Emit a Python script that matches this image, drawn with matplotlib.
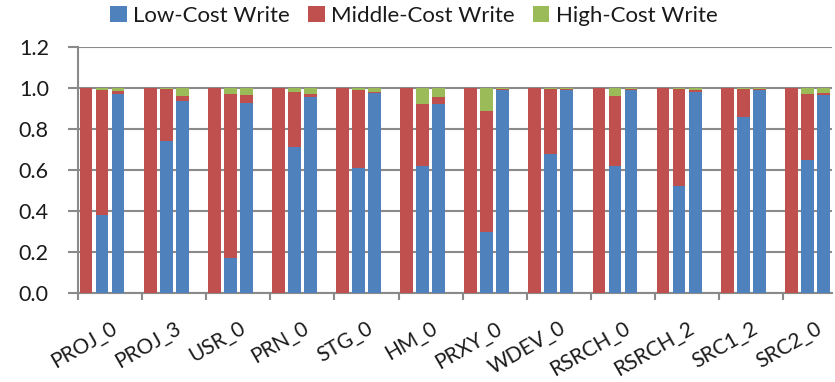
import matplotlib
matplotlib.use('Agg')
import numpy as np
from matplotlib import pyplot as plt

plt.rcParams['font.family'] = ['Lato', 'DejaVu Sans']

traces = ['PROJ_0', 'PROJ_3', 'USR_0', 'PRN_0', 'STG_0', 'HM_0',
          'PRXY_0', 'WDEV_0', 'RSRCH_0', 'RSRCH_2', 'SRC1_2', 'SRC2_0']

# three schemes per trace, shares of writes by cost class
low_a = [0, 0, 0, 0, 0, 0, 0, 0, 0, 0, 0, 0]
mid_a = [1, 1, 1, 1, 1, 1, 1, 1, 1, 1, 1, 1]
high_a = [0, 0, 0, 0, 0, 0, 0, 0, 0, 0, 0, 0]

low_b = [0.38, 0.74, 0.17, 0.71, 0.61, 0.62, 0.30, 0.68, 0.62, 0.52, 0.86, 0.65]
mid_b = [0.61, 0.255, 0.80, 0.27, 0.38, 0.30, 0.59, 0.315, 0.34, 0.475, 0.135, 0.32]
high_b = [0.01, 0.005, 0.03, 0.02, 0.01, 0.08, 0.11, 0.005, 0.04, 0.005, 0.005, 0.03]

low_c = [0.97, 0.935, 0.925, 0.956, 0.974, 0.922, 0.989, 0.989, 0.989, 0.982, 0.989, 0.964]
mid_c = [0.015, 0.028, 0.042, 0.013, 0.008, 0.034, 0.006, 0.006, 0.006, 0.008, 0.006, 0.012]
high_c = [0.015, 0.037, 0.033, 0.031, 0.018, 0.044, 0.005, 0.005, 0.005, 0.01, 0.005, 0.024]

BLUE, RED, GREEN = '#4F81BD', '#C0504D', '#9BBB59'
GRID = '#8a8a8a'
TEXT = '#1a1a1a'

fig = plt.figure(figsize=(8.35, 3.82), dpi=100)
ax = fig.add_axes([78 / 835, 1 - 293 / 382, (832 - 78) / 835, (293 - 47) / 382])

x = np.arange(len(traces))
w = 0.2
for j, (lo, mi, hi) in enumerate([(low_a, mid_a, high_a),
                                  (low_b, mid_b, high_b),
                                  (low_c, mid_c, high_c)]):
    pos = x + 0.125 + 0.25 * j
    lo, mi, hi = np.array(lo), np.array(mi), np.array(hi)
    ax.bar(pos, lo, w, color=BLUE, zorder=3, label='Low-Cost Write' if j == 0 else None)
    ax.bar(pos, mi, w, bottom=lo, color=RED, zorder=3, label='Middle-Cost Write' if j == 0 else None)
    ax.bar(pos, hi, w, bottom=lo + mi, color=GREEN, zorder=3, label='High-Cost Write' if j == 0 else None)

ax.set_xlim(0, 11.76)
ax.set_ylim(0, 1.2)
ax.set_yticks(np.arange(0, 1.21, 0.2))
ax.set_yticklabels([f'{v:.1f}' for v in np.arange(0, 1.21, 0.2)], fontsize=15.5, color=TEXT)
ax.yaxis.grid(True, color=GRID, linewidth=1.5, zorder=0)

ax.set_xticks(x)
ax.set_xticklabels([])
ax.set_xticks(x + 0.5, minor=True)
ax.set_xticklabels(traces, minor=True, rotation=30, ha='right', va='top',
                   rotation_mode='anchor', fontsize=15, color=TEXT)
ax.tick_params(axis='x', which='minor', length=0, pad=18)
ax.tick_params(axis='x', which='major', length=5, color=GRID, width=1.5)
ax.tick_params(axis='y', length=7, color=GRID, width=1.5, pad=14)

for s in ['top', 'right']:
    ax.spines[s].set_visible(False)
for s in ['left', 'bottom']:
    ax.spines[s].set_color(GRID)
    ax.spines[s].set_linewidth(1.5)

handles, labels = ax.get_legend_handles_labels()
fig.legend(handles, labels, loc='center', bbox_to_anchor=(414 / 835, 1 - 16 / 382),
           ncol=3, frameon=False, fontsize=16, handlelength=0.75, handleheight=0.75,
           handletextpad=0.3, columnspacing=0.8, borderaxespad=0, labelcolor=TEXT)

fig.savefig('out.png', dpi=100)
